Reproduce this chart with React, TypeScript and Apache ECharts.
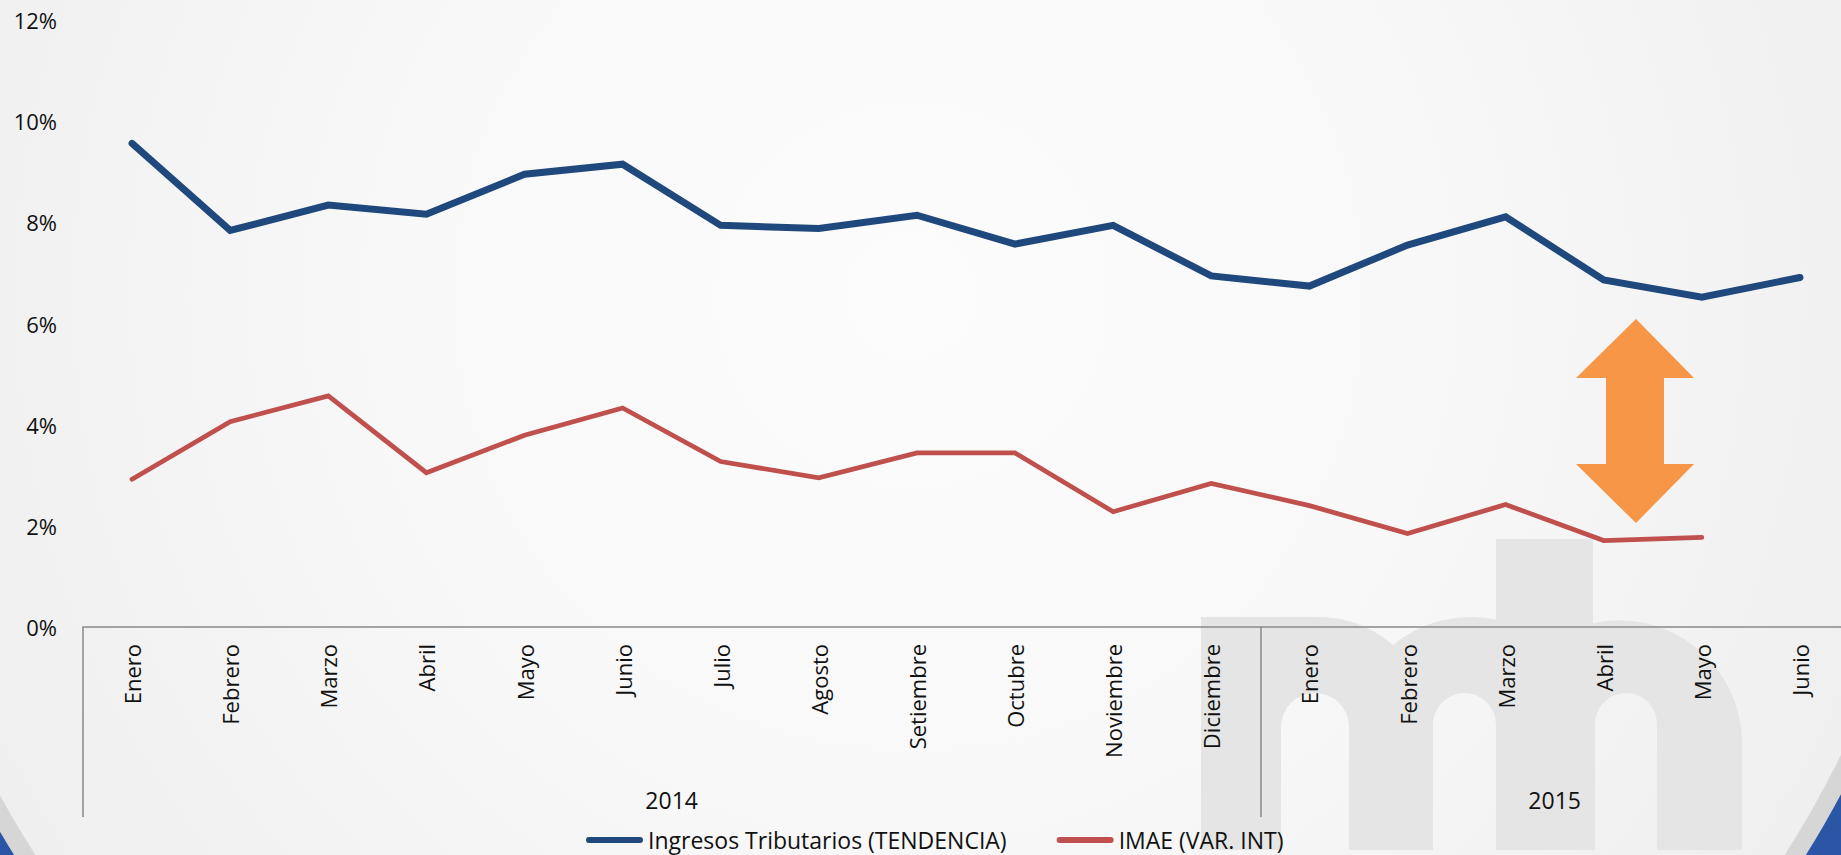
import React, { useEffect, useRef } from "react";
import * as echarts from "echarts";

// ---------- DATA ----------
const months2014 = ["Enero", "Febrero", "Marzo", "Abril", "Mayo", "Junio", "Julio", "Agosto", "Setiembre", "Octubre", "Noviembre", "Diciembre"];
const months2015 = ["Enero", "Febrero", "Marzo", "Abril", "Mayo", "Junio"];
const years = ["2014", "2015"];
const ingresosTributarios = [9.56, 7.84, 8.34, 8.16, 8.95, 9.15, 7.94, 7.88, 8.14, 7.57, 7.94, 6.94, 6.74, 7.55, 8.11, 6.86, 6.52, 6.91];
const imae = [2.92, 4.06, 4.57, 3.05, 3.79, 4.33, 3.27, 2.95, 3.44, 3.44, 2.28, 2.84, 2.40, 1.85, 2.42, 1.71, 1.77, null];
const seriesNames = ["Ingresos Tributarios (TENDENCIA)", "IMAE (VAR. INT)"];
const yMin = 0;
const yMax = 12;
const yStep = 2;

// ---------- derived ----------
const groups = [
  { name: years[0], months: months2014 },
  { name: years[1], months: months2015 },
];
const categories: string[] = [];
groups.forEach((g) => g.months.forEach((m) => categories.push(m + "|" + g.name)));
const total = categories.length;
const yearCenters: { [k: string]: string } = {};
let acc = 0;
groups.forEach((g) => {
  yearCenters[String(acc + g.months.length / 2)] = g.name;
  acc += g.months.length;
});

const FONT = '"Open Sans", "Noto Sans", sans-serif';
const BLUE = "#1F497D";
const RED = "#C0504D";

const LOGO_D =
  "M1201 850 L1201 617 L1317 617 A116 116 0 0 1 1393 645 A122 122 0 0 1 1496 619.6 L1496 539 L1593 539 L1593 623 " +
  "A123 123 0 0 1 1742 743 L1742 850 L1657 850 L1657 724 A31 31 0 0 0 1595 724 L1595 850 L1496 850 L1496 724.5 " +
  "A31.5 31.5 0 0 0 1433 724.5 L1433 850 L1349 850 L1349 727 A34 34 0 0 0 1281 727 L1281 850 Z";

try {
  echarts.graphic.registerShape("logo", echarts.graphic.extendPath(LOGO_D, {}) as any);
} catch (e) {
  // ignore
}

export default function App() {
  const ref = useRef<HTMLDivElement>(null);
  useEffect(() => {
    if (!ref.current) return;
    const chart = echarts.init(ref.current, null, { renderer: "svg" });
    const option: any = {
      animation: false,
      backgroundColor: "#2a56a5",
      graphic: {
        elements: [
          { type: "circle", z: -10, shape: { cx: 910, cy: 296, r: 1056 }, style: { fill: "#d6d6d6" } },
          {
            type: "circle",
            z: -9,
            shape: { cx: 910, cy: 296, r: 1038 },
            style: {
              fill: new echarts.graphic.RadialGradient(0.5, 0.5, 0.5, [
                { offset: 0, color: "#fcfcfc" },
                { offset: 0.5, color: "#f8f8f8" },
                { offset: 1, color: "#efefef" },
              ]),
            },
          },
          { type: "logo", z: -8, x: 0, y: 0, scaleX: 1, scaleY: 1, style: { fill: "#e5e5e5" } },
          {
            type: "polygon",
            z: 6,
            shape: {
              points: [
                [1636, 319], [1694, 378], [1664, 378], [1664, 464], [1694, 464],
                [1636, 523], [1576, 464], [1606, 464], [1606, 378], [1576, 378],
              ],
            },
            style: { fill: "#F79646" },
          },
        ],
      },
      grid: { left: 83, right: 0, top: 20, bottom: 228, containLabel: false, outerBoundsMode: "none" },
      legend: {
        data: seriesNames,
        left: 586,
        top: 828,
        padding: 0,
        itemWidth: 57,
        itemHeight: 6,
        itemGap: 50,
        icon: "path://M3,0 L54,0 A3,3 0 0 1 54,6 L3,6 A3,3 0 0 1 3,0 Z",
        textStyle: { fontSize: 23, lineHeight: 24, color: "#111", fontFamily: FONT },
      },
      xAxis: [
        {
          type: "category",
          position: "bottom",
          data: categories,
          boundaryGap: true,
          z: 3,
          axisLine: { show: true, onZero: false, lineStyle: { color: "#898989", width: 1.5 } },
          axisTick: { show: false },
          axisLabel: {
            rotate: 90,
            interval: 0,
            margin: 17,
            fontSize: 22,
            color: "#111",
            fontFamily: FONT,
            formatter: (v: string) => v.split("|")[0],
          },
          splitLine: { show: false },
        },
        {
          type: "value",
          position: "bottom",
          offset: 0,
          min: 0,
          max: total,
          interval: months2014.length,
          z: 3,
          axisLine: { show: false, onZero: false },
          axisTick: { show: true, length: 190, lineStyle: { color: "#898989", width: 1.5 } },
          axisLabel: { show: false },
          splitLine: { show: false },
        },
        {
          type: "value",
          position: "bottom",
          offset: 0,
          min: 0,
          max: total,
          interval: 3,
          z: 3,
          axisLine: { show: false, onZero: false },
          axisTick: { show: false },
          axisLabel: {
            margin: 161,
            fontSize: 23,
            color: "#111",
            fontFamily: FONT,
            showMinLabel: true,
            showMaxLabel: true,
            formatter: (v: number) => yearCenters[String(v)] || "",
          },
          splitLine: { show: false },
        },
      ],
      yAxis: {
        type: "value",
        min: yMin,
        max: yMax,
        interval: yStep,
        z: 3,
        axisLine: { show: false },
        axisTick: { show: false },
        splitLine: { show: false },
        axisLabel: { margin: 26, fontSize: 22, color: "#111", fontFamily: FONT, formatter: "{value}%" },
      },
      series: [
        {
          name: seriesNames[0],
          type: "line",
          xAxisIndex: 0,
          data: ingresosTributarios,
          symbol: "none",
          z: 5,
          color: BLUE,
          lineStyle: { color: BLUE, width: 7, cap: "round", join: "miter" },
        },
        {
          name: seriesNames[1],
          type: "line",
          xAxisIndex: 0,
          data: imae,
          symbol: "none",
          z: 5,
          color: RED,
          lineStyle: { color: RED, width: 4.75, cap: "round", join: "miter" },
        },
      ],
    };
    chart.setOption(option);
    return () => chart.dispose();
  }, []);
  return (
    <div style={{ position: "fixed", left: 0, top: 0, width: 1841, height: 855, overflow: "hidden" }}>
      <div ref={ref} style={{ width: 1849, height: 855 }} />
    </div>
  );
}
